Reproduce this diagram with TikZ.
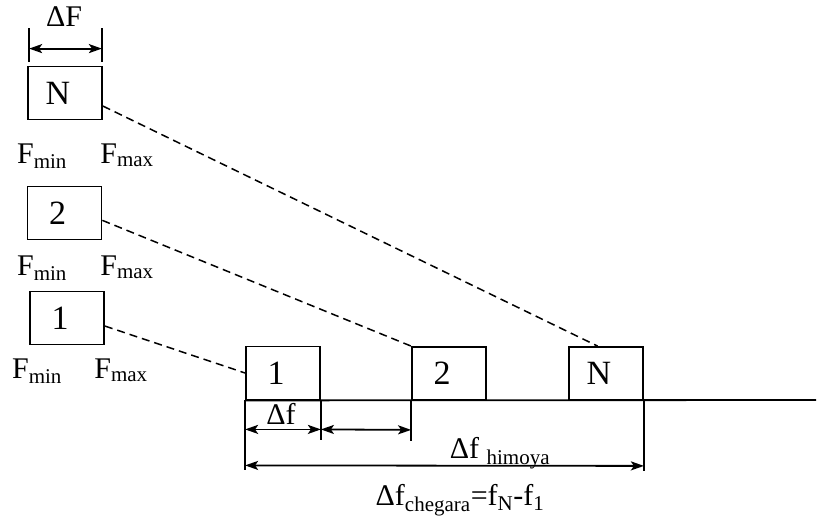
\documentclass[tikz,border=0pt]{standalone}
\usepackage{fontspec}
\setmainfont{Liberation Serif}
\usetikzlibrary{arrows.meta}

\tikzset{
  band/.style={draw, line width=1.8pt, minimum width=74pt, minimum height=53pt,
    inner sep=0pt, font=\fontsize{34}{34}\selectfont,
    execute at end node={\hspace*{14pt}}},
  lbl/.style={anchor=base, inner sep=0pt, font=\fontsize{30}{30}\selectfont},
  link/.style={line width=1.5pt, dash pattern=on 8pt off 5pt},
  dimline/.style={line width=1.8pt,
    {Stealth[length=13pt,width=9pt,inset=3pt]}-{Stealth[length=13pt,width=9pt,inset=3pt]}},
  tick/.style={line width=1.8pt},
}

\begin{document}
\begin{tikzpicture}[x=1pt, y=-1pt]
\useasboundingbox (0,0) rectangle (818,517);

% channels before grouping
\node[band] (topN) at (65,93) {N};
\node[band] (top2) at (64.5,213) {2};
\node[band] (top1) at (67,318) {1};

\node[lbl] (minN) at (42,163) {F\textsubscript{min}};
\node[lbl] (maxN) at (127,163) {F\textsubscript{max}};
\node[lbl] (min2) at (42,275) {F\textsubscript{min}};
\node[lbl] (max2) at (127,275) {F\textsubscript{max}};
\node[lbl] (min1) at (37,378) {F\textsubscript{min}};
\node[lbl] (max1) at (121,378) {F\textsubscript{max}};

% width of one channel
\draw[tick] ([xshift=2pt,yshift=4pt]topN.north west) -- ++(0,-34);
\draw[tick] ([xshift=-1pt,yshift=4pt]topN.north east) -- ++(0,-34);
\draw[dimline] ([xshift=2pt,yshift=17pt]topN.north west) -- ([xshift=-1pt,yshift=17pt]topN.north east);
\node[lbl] (dF) at (64,26) {ΔF};

% channels in the common band
\node[band] (bot1) at (283,373) {1};
\node[band] (bot2) at (449,373.5) {2};
\node[band] (botN) at (606,373.5) {N};
\coordinate (axisend) at (816,400);
\draw[line width=1.8pt] (bot1.south west) -- (axisend);

\draw[link] (topN.-19) -- (botN.107);
\draw[link] (top2.-11) -- (bot2.north west);
\draw[link] (top1.-12) -- (bot1.west);

% dimensions below the axis
\draw[tick] (bot1.south west) -- ++(0,70);
\draw[tick] (bot1.south east) -- ++(0,40);
\draw[tick] (bot2.south west) -- ++(0,40);
\draw[tick] (botN.south east) -- ++(0,70);

\draw[dimline] ([yshift=-29pt]bot1.south west) -- ([yshift=-29pt]bot1.south east);
\draw[dimline] ([yshift=-29pt]bot1.south east) -- ([yshift=-29pt]bot2.south west);
\node[lbl] (df) at (281,424) {Δf};

\draw[dimline] ([yshift=-65pt]bot1.south west) -- ([yshift=-65pt]botN.south east);
\node[lbl] (dfh) at (500,458) {Δf~\textsubscript{himoya}};

\node[lbl] (dfc) at (460,505) {Δf\textsubscript{chegara}=f\textsubscript{N}-f\textsubscript{1}};

\end{tikzpicture}
\end{document}
